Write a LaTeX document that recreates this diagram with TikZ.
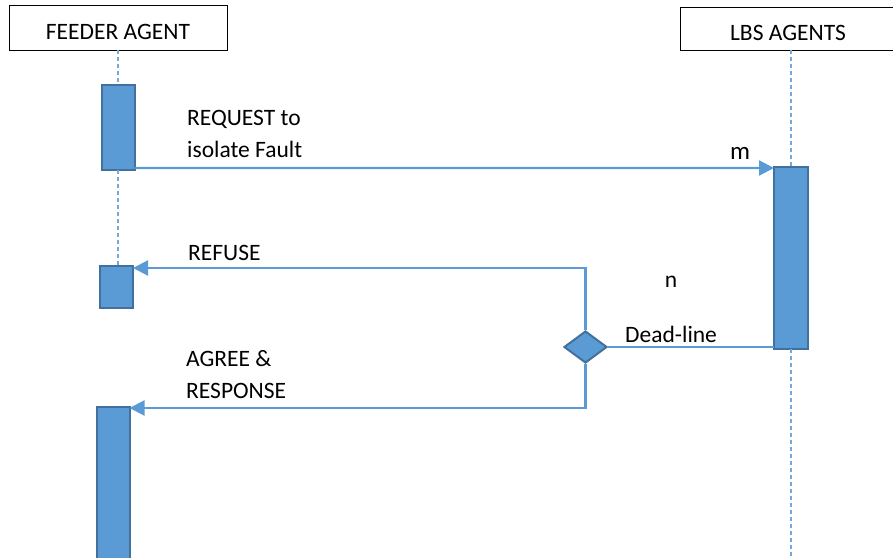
\documentclass[tikz,border=0pt]{standalone}
\usepackage{fontspec}
\setmainfont{Carlito}
\usetikzlibrary{arrows.meta,shapes.geometric}
\definecolor{bl}{HTML}{5B9BD5}
\definecolor{bd}{HTML}{41719C}
\begin{document}
\begin{tikzpicture}[x=1bp,y=-1bp,
  bar/.style={draw=bd,fill=bl,line width=2bp,inner sep=0pt,outer sep=0pt},
  head/.style={draw=black,line width=0.9bp,inner sep=0pt,fill=white},
  htxt/.style={font=\fontsize{23.5bp}{28bp}\selectfont,inner sep=0pt},
  msg/.style={draw=bl,line width=2.2bp,-{Triangle[length=15bp,width=15bp]}},
  life/.style={draw=bl!85,line width=1.3bp,dash pattern=on 4bp off 3bp},
  lbl/.style={font=\fontsize{23.5bp}{32bp}\selectfont,inner sep=0pt,anchor=base west,align=left}]
\useasboundingbox (0,0) rectangle (893,558);
\clip (0,0) rectangle (893,558);
% heads
\node[head,minimum width=218bp,minimum height=45bp] (fa) at (118,27.5) {};
\node[htxt] (fat) at (118,31.5) {FEEDER AGENT};
\node[head,minimum width=222bp,minimum height=43bp] (la) at (791,28.5) {};
\node[htxt] (lat) at (788,33) {LBS AGENTS};
% activation bars
\node[bar,minimum width=33bp,minimum height=85bp] (b1) at (118,127.5) {};
\node[bar,minimum width=33bp,minimum height=42bp] (b2) at (116.5,287) {};
\node[bar,minimum width=33bp,minimum height=158bp] (b3) at (113,486) {};
\node[bar,minimum width=34bp,minimum height=182bp] (lb) at (791,258) {};
% lifelines
\coordinate (lend) at (791,560);
\draw[life] (fa.south) -- (b1.north);
\draw[life] (b1.south) -- (b1.south |- b2.north);
\draw[life] (la.south) -- (lb.north);
\draw[life] (lb.south) -- (lend);
% decision
\node[diamond,draw=bd,fill=bl,line width=2bp,inner sep=0pt,minimum width=43bp,minimum height=32bp] (dm) at (585.5,347) {};
% messages
\draw[msg] ([yshift=2bp]b1.south east) -- ([yshift=-1bp]lb.north west);
\draw[msg] (dm.north) |- ([yshift=-2bp]b2.north east);
\draw[msg] (dm.south) |- ([yshift=-1bp]b3.north east);
\draw[draw=bl,line width=1.6bp] (dm.east) -- (dm.east -| lb.west);
% labels
\node[lbl] (t1) at (187,158) {REQUEST to\\isolate Fault};
\node[lbl] (t2) at (188,261) {REFUSE};
\node[lbl] (t3) at (186,398) {AGREE \&\\RESPONSE};
\node[font=\fontsize{25bp}{28bp}\selectfont,inner sep=0pt] (tm) at (740,153) {m};
\node[font=\fontsize{23.5bp}{28bp}\selectfont,inner sep=0pt] (tn) at (671,282) {n};
\node[lbl] (td) at (625,343) {Dead-line};
\end{tikzpicture}
\end{document}
